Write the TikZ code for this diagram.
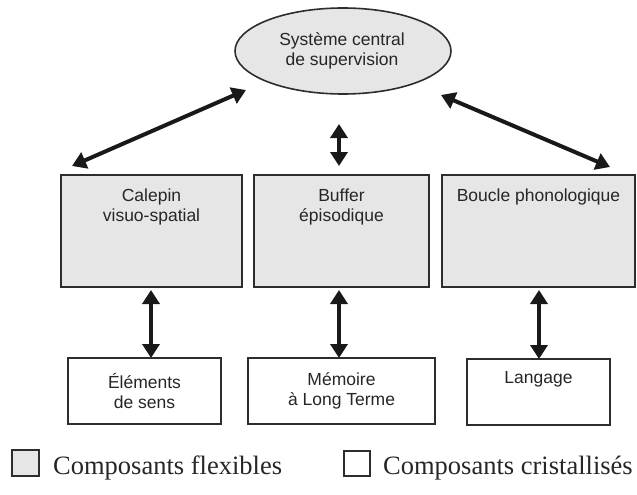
\documentclass[tikz,border=0pt]{standalone}
\usepackage{fontspec}
\setmainfont{Liberation Serif}
\newfontfamily\diagfont{Liberation Sans}
\usetikzlibrary{arrows.meta,shapes.geometric}
\definecolor{boxgray}{RGB}{230,230,231}
\definecolor{linegray}{RGB}{45,45,45}
\tikzset{
  flexbox/.style={draw=linegray,line width=1.6pt,fill=boxgray,inner sep=0pt},
  crystbox/.style={draw=linegray,line width=1.6pt,fill=white,inner sep=0pt},
  boxtext/.style={font=\diagfont\fontsize{17.5}{20}\selectfont,align=center,text=black!85},
  bigarrow/.style={line width=4pt,black!90,{Triangle[length=14pt,width=17pt]}-{Triangle[length=14pt,width=17pt]}},
  legtext/.style={font=\fontsize{26.5}{30}\selectfont,anchor=base west,inner sep=0pt,text=black!85}
}
\begin{document}
\begin{tikzpicture}[x=1pt,y=-1pt]
\useasboundingbox (0,0) rectangle (637,495);
% central executive
\node[ellipse,flexbox,minimum width=216pt,minimum height=86pt] (sce) at (343,51) {};
\node[boxtext] (scet) at (342,51) {Système central\\de supervision};
% top boxes
\draw[flexbox] (61,175) rectangle (242,287);
\draw[flexbox] (254,175) rectangle (429,287);
\draw[flexbox] (442,175) rectangle (635,287);
\node[boxtext,anchor=north] (calt) at (151.5,185) {Calepin\\visuo-spatial};
\node[boxtext,anchor=north] (buft) at (341.5,185) {Buffer\\épisodique};
\node[boxtext,anchor=north] (bout) at (538.5,185) {Boucle phonologique};
% bottom boxes
\draw[crystbox] (68,358) rectangle (221,424);
\draw[crystbox] (248,358) rectangle (435,424);
\draw[crystbox] (467,359) rectangle (610,425);
\node[boxtext] (ele) at (144.5,391) {Éléments\\de sens};
\node[boxtext] (mem) at (341.5,391) {Mémoire\\à Long Terme};
\node[boxtext,anchor=north] (lan) at (538.5,368) {Langage};
% arrows
\coordinate (a1s) at (246,90); \coordinate (a1e) at (72,166);
\coordinate (a2s) at (339,124); \coordinate (a2e) at (339,166);
\coordinate (a3s) at (441,95); \coordinate (a3e) at (610,167);
\draw[bigarrow] (a1s) -- (a1e);
\draw[bigarrow] (a2s) -- (a2e);
\draw[bigarrow] (a3s) -- (a3e);
\coordinate (b1s) at (151,290); \coordinate (b1e) at (151,358);
\coordinate (b2s) at (339,290); \coordinate (b2e) at (339,358);
\coordinate (b3s) at (539,290); \coordinate (b3e) at (539,359);
\draw[bigarrow] (b1s) -- (b1e);
\draw[bigarrow] (b2s) -- (b2e);
\draw[bigarrow] (b3s) -- (b3e);
% legend
\draw[flexbox,line width=1.5pt] (12,450) rectangle (39,476);
\node[legtext] (lf) at (53,474) {Composants flexibles};
\draw[crystbox,line width=1.5pt] (344,451) rectangle (370,476);
\node[legtext] (lc) at (383,474) {Composants cristallisés};
\end{tikzpicture}
\end{document}
